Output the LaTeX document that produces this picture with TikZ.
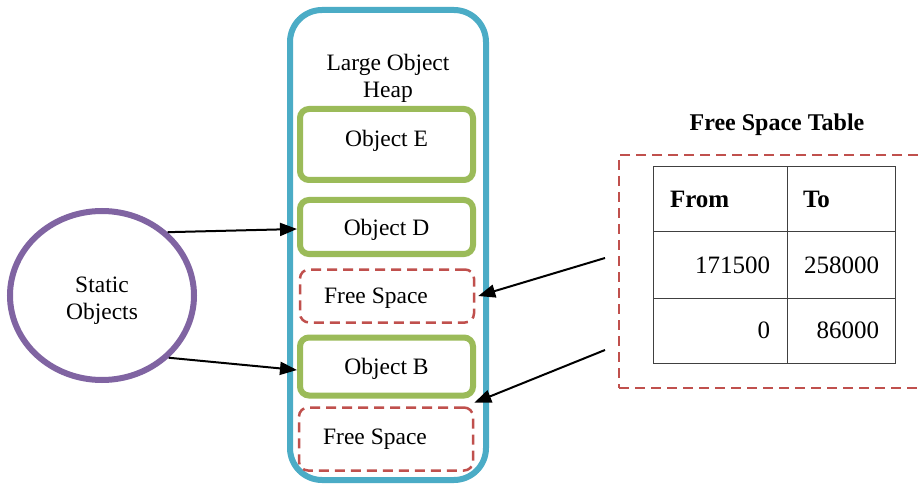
\documentclass[tikz,border=0pt]{standalone}
\usepackage{fontspec}
\setmainfont{Liberation Serif}
\usetikzlibrary{shapes.geometric,arrows.meta,calc}
\definecolor{heapblue}{HTML}{4BACC6}
\definecolor{objgreen}{HTML}{9BBB59}
\definecolor{freered}{HTML}{C0504D}
\definecolor{statpurple}{HTML}{8064A2}
\definecolor{tabgray}{HTML}{404040}
\begin{document}
\begin{tikzpicture}[x=1pt,y=-1pt,
  txt/.style={font=\rmfamily\fontsize{23.5}{27}\selectfont},
  heapbox/.style={draw=heapblue, line width=6pt, rounded corners=32pt, minimum width=196pt, minimum height=470pt, inner sep=0pt},
  objbox/.style={draw=objgreen, line width=6pt, rounded corners=9pt, minimum width=173pt, inner sep=0pt, txt},
  freebox/.style={draw=freered, line width=2.5pt, dash pattern=on 10pt off 6pt, rounded corners=9pt, minimum width=174pt, inner sep=0pt, txt},
  tablebox/.style={draw=freered, line width=2.5pt, dash pattern=on 10pt off 6pt, inner sep=0pt},
  statobj/.style={ellipse, draw=statpurple, line width=6pt, minimum width=184pt, minimum height=169pt, inner sep=0pt, align=center, txt},
  ptr/.style={-{Triangle[length=17pt,width=13pt]}, line width=2pt},
  cell/.style={draw=tabgray, line width=1pt, inner ysep=0pt, font=\rmfamily\fontsize{25}{30}\selectfont},
  cellL/.style={cell, minimum height=#1, inner xsep=17pt, text width=100pt},
  cellR/.style={cell, minimum height=#1, inner xsep=16pt, text width=76pt}
]
\clip (0,0) rectangle (922,484);
\fill[white] (0,0) rectangle (922,484);

% heap
\node[heapbox] (H) at (388,245) {};
\node[txt, align=center] (Htitle) at (388,78) {Large Object\\Heap};

\node[objbox, minimum height=71pt, label={[txt, yshift=4pt]center:Object E}] (E) at (386.5,144.5) {};
\node[objbox, minimum height=54pt, label={[txt, yshift=-3pt]center:Object D}] (D) at (386.5,227) {};
\node[freebox, minimum height=53pt, label={[txt, xshift=-11pt, yshift=-2.5pt]center:Free Space}] (F1) at (387,296) {};
\node[objbox, minimum height=58pt, label={[txt, yshift=-2pt]center:Object B}] (B) at (386.5,366.5) {};
\node[freebox, minimum height=63pt, label={[txt, xshift=-11pt, yshift=0pt]center:Free Space}] (F2) at (386,439) {};

% static objects
\node[statobj, label={[txt, align=center, yshift=-5pt]center:Static\\Objects}] (C) at (102,295.5) {};

\draw[ptr] (C.44) -- ([yshift=-2pt]D.west);
\draw[ptr] (C.-43) -- ([yshift=-3.5pt]B.west);

% free space table
\node[font=\rmfamily\fontsize{24}{28}\selectfont\bfseries] (Ttitle) at (777,125) {Free Space Table};
\node[tablebox, minimum width=321pt, minimum height=233pt] (T) at (779.5,271.5) {};

\node[cellL=65pt, align=left] (c11) at (720,199.5) {\textbf{From}};
\node[cellR=65pt, align=left] (c12) at (841,199.5) {\textbf{To}};
\node[cellL=66pt, align=right] (c21) at (720,265) {\raisebox{0pt}{171500}};
\node[cellR=66pt, align=right] (c22) at (841,265) {258000};
\node[cellL=65pt, align=right] (c31) at (720,330.5) {0};
\node[cellR=65pt, align=right] (c32) at (841,330.5) {86000};

\coordinate (s1) at (605,258);
\coordinate (s2) at (605,350);
\draw[ptr] (s1) -- ([xshift=3pt]F1.east);
\draw[ptr] (s2) -- ([yshift=3.5pt]F2.north east);
\end{tikzpicture}
\end{document}
